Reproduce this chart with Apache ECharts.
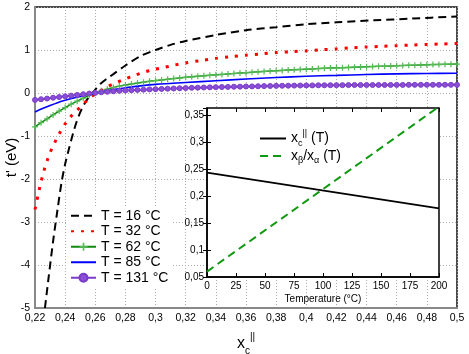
<!DOCTYPE html>
<html>
<head>
<meta charset="utf-8">
<script src="https://cdn.jsdelivr.net/npm/echarts@6/dist/echarts.min.js"></script>
<style>
  html, body { margin: 0; padding: 0; background: #fff; }
  #chart { width: 469px; height: 354px; }
</style>
</head>
<body>
<div id="chart"></div>
<script>
// main plot: t' vs x_c
const xDense = [
  0.22, 0.224, 0.228, 0.232, 0.236, 0.24, 0.244, 0.248, 0.252, 0.256,
  0.26, 0.264, 0.268, 0.272, 0.276, 0.28, 0.284, 0.288, 0.292, 0.296,
  0.3, 0.304, 0.308, 0.312, 0.316, 0.32, 0.324, 0.328, 0.332, 0.336,
  0.34, 0.344, 0.348, 0.352, 0.356, 0.36, 0.364, 0.368, 0.372, 0.376,
  0.38, 0.384, 0.388, 0.392, 0.396, 0.4, 0.404, 0.408, 0.412, 0.416,
  0.42, 0.424, 0.428, 0.432, 0.436, 0.44, 0.444, 0.448, 0.452, 0.456,
  0.46, 0.464, 0.468, 0.472, 0.476, 0.48, 0.484, 0.488, 0.492, 0.496,
  0.5
];
const t62 = [
  -0.79, -0.69, -0.6, -0.51, -0.42, -0.34, -0.26, -0.19, -0.12, -0.055,
  0.0, 0.05, 0.09, 0.13, 0.16, 0.185, 0.21, 0.232, 0.252, 0.272,
  0.29, 0.305, 0.32, 0.335, 0.35, 0.364, 0.377, 0.389, 0.4, 0.411,
  0.422, 0.433, 0.443, 0.453, 0.463, 0.473, 0.483, 0.492, 0.501, 0.51,
  0.518, 0.526, 0.534, 0.541, 0.548, 0.555, 0.561, 0.567, 0.573, 0.579,
  0.585, 0.59, 0.595, 0.6, 0.605, 0.61, 0.615, 0.62, 0.625, 0.63,
  0.635, 0.64, 0.644, 0.648, 0.652, 0.656, 0.66, 0.664, 0.667, 0.67,
  0.673
];
const t131 = [
  -0.16, -0.145, -0.13, -0.11, -0.095, -0.078, -0.062, -0.045, -0.028, -0.012,
  0.003, 0.017, 0.029, 0.04, 0.05, 0.058, 0.065, 0.072, 0.078, 0.084,
  0.089, 0.095, 0.1, 0.105, 0.11, 0.115, 0.12, 0.124, 0.128, 0.132,
  0.136, 0.139, 0.142, 0.145, 0.148, 0.151, 0.154, 0.157, 0.16, 0.163,
  0.166, 0.168, 0.17, 0.172, 0.174, 0.176, 0.177, 0.179, 0.18, 0.181,
  0.182, 0.183, 0.184, 0.185, 0.185, 0.186, 0.186, 0.187, 0.187, 0.188,
  0.188, 0.188, 0.189, 0.189, 0.189, 0.19, 0.19, 0.19, 0.19, 0.19,
  0.19
];
const x16 = [0.2266, 0.229, 0.232, 0.235, 0.2375, 0.24, 0.2425, 0.245, 0.2475, 0.25,
  0.2525, 0.255, 0.2575, 0.26, 0.2633, 0.268, 0.272, 0.28, 0.29, 0.3,
  0.31, 0.32, 0.34, 0.36, 0.38, 0.4, 0.42, 0.445, 0.47, 0.5];
const t16 = [-5, -4.3, -3.45, -2.7, -2.1, -1.65, -1.3, -0.97, -0.68, -0.45,
  -0.27, -0.13, -0.02, 0.08, 0.21, 0.34, 0.44, 0.64, 0.86, 1.0,
  1.12, 1.21, 1.35, 1.46, 1.53, 1.6, 1.645, 1.69, 1.73, 1.78];
const x32 = [0.22, 0.222, 0.224, 0.226, 0.228, 0.23, 0.233, 0.236, 0.24, 0.245,
  0.25, 0.2565, 0.262, 0.268, 0.274, 0.28, 0.286, 0.292, 0.298, 0.305,
  0.312, 0.32, 0.33, 0.34, 0.35, 0.36, 0.37, 0.38, 0.39, 0.4,
  0.41, 0.42, 0.43, 0.44, 0.45, 0.46, 0.47, 0.48, 0.49, 0.5];
const t32 = [-2.71, -2.38, -2.07, -1.8, -1.58, -1.39, -1.16, -0.95, -0.72, -0.5,
  -0.33, -0.11, 0.02, 0.15, 0.24, 0.33, 0.41, 0.48, 0.54, 0.59,
  0.645, 0.7, 0.755, 0.805, 0.845, 0.88, 0.91, 0.94, 0.96, 0.98,
  1.005, 1.025, 1.05, 1.07, 1.085, 1.1, 1.115, 1.13, 1.14, 1.15];
const x85 = [0.22, 0.225, 0.23, 0.235, 0.24, 0.245, 0.25, 0.255, 0.26, 0.265,
  0.27, 0.28, 0.29, 0.3, 0.32, 0.34, 0.36, 0.38, 0.4, 0.42,
  0.44, 0.46, 0.48, 0.5];
const t85 = [-0.44, -0.36, -0.29, -0.225, -0.17, -0.12, -0.08, -0.045, -0.01, 0.03,
  0.07, 0.12, 0.165, 0.2, 0.245, 0.285, 0.325, 0.36, 0.39, 0.41,
  0.43, 0.445, 0.455, 0.46];
const legendNames = ['T = 16 °C', 'T = 32 °C', 'T = 62 °C', 'T = 85 °C', 'T = 131 °C'];

// inset: x vs temperature
const tempC = [0, 200];
const xcT = [0.243, 0.177];
const ratioT = [0.06, 0.365];

const pairs = (xs, ys) => xs.map((x, i) => [x, ys[i]]);
const comma = (v) => String(+v.toFixed(3)).replace('.', ',');
const FONT = 'Liberation Sans';
const noMark = { opacity: 0 };

const chart = echarts.init(document.getElementById('chart'));

const insetNames = {
  xc: '{m|x}{sub|c}{sup|||}{m| (T)}',
  ratio: '{m|x}{sub|β}{m|/x}{sub|α}{m| (T)}',
};
const richSub = {
  m: { fontSize: 14, lineHeight: 19, fontFamily: FONT, color: '#000' },
  sub: { fontSize: 9, lineHeight: 9, verticalAlign: 'bottom', fontFamily: FONT, color: '#000' },
  sup: { fontSize: 9, lineHeight: 9, verticalAlign: 'top', fontFamily: FONT, color: '#000' },
};

const option = {
  animation: false,
  textStyle: { fontFamily: FONT },
  grid: [
    { left: 35, top: 7, width: 422, height: 301, outerBoundsMode: 'none',
      show: true, borderColor: '#111', borderWidth: 1.5, z: 0 },
    { left: 207, top: 108, width: 232, height: 169, outerBoundsMode: 'none',
      show: true, backgroundColor: '#fff', borderColor: '#000', borderWidth: 1.5, z: 3 },
  ],
  xAxis: [
    {
      type: 'value', gridIndex: 0, min: 0.22, max: 0.5, interval: 0.02, z: 1,
      axisLine: { show: true, onZero: false, lineStyle: { color: '#888', width: 2 } },
      axisTick: { show: false },
      axisLabel: { color: '#000', fontSize: 10.5, margin: 5, formatter: comma },
      splitLine: { show: true, lineStyle: { color: '#aaa', width: 1, type: [1, 2] } },
      name: '{x|x}{sub|c}{sup|||}', nameLocation: 'middle', nameGap: 24, nameMoveOverlap: false,
      nameTextStyle: {
        rich: {
          x: { fontSize: 16, lineHeight: 24, fontFamily: FONT, color: '#000' },
          sub: { fontSize: 10, lineHeight: 10, verticalAlign: 'bottom', fontFamily: FONT, color: '#000' },
          sup: { fontSize: 10, lineHeight: 10, verticalAlign: 'top', fontFamily: FONT, color: '#000' },
        },
      },
    },
    {
      type: 'value', gridIndex: 1, min: 0, max: 200, interval: 25, z: 4,
      axisLine: { show: true, lineStyle: { color: '#000', width: 1.5 } },
      axisTick: { show: true, inside: true, length: 4, lineStyle: { color: '#000' } },
      axisLabel: { color: '#000', fontSize: 10, margin: 4 },
      splitLine: { show: false },
      name: 'Temperature (°C)', nameLocation: 'middle', nameGap: 17, nameMoveOverlap: false,
      nameTextStyle: { color: '#000', fontSize: 10 },
    },
    {
      type: 'value', gridIndex: 1, position: 'top', min: 0, max: 200, interval: 25, z: 4,
      axisLine: { show: false },
      axisTick: { show: true, inside: true, length: 4, lineStyle: { color: '#000' } },
      axisLabel: { show: false },
      splitLine: { show: false },
    },
  ],
  yAxis: [
    {
      type: 'value', gridIndex: 0, min: -5, max: 2, interval: 1, z: 1,
      axisLine: { show: true, onZero: false, lineStyle: { color: '#888', width: 2 } },
      axisTick: { show: false },
      axisLabel: { color: '#000', fontSize: 10.5, margin: 5 },
      splitLine: { show: true, lineStyle: { color: '#aaa', width: 1, type: [1, 2] } },
      name: "t' (eV)", nameLocation: 'middle', nameGap: 16, nameRotate: 90, nameMoveOverlap: false,
      nameTextStyle: { color: '#000', fontSize: 15 },
    },
    {
      type: 'value', gridIndex: 1, min: 0.05, max: 0.3625, interval: 0.05, z: 4,
      axisLine: { show: true, lineStyle: { color: '#000', width: 1.5 } },
      axisTick: { show: true, inside: true, length: 4, lineStyle: { color: '#000' } },
      axisLabel: { color: '#000', fontSize: 10, margin: 3, formatter: comma, showMaxLabel: false },
      splitLine: { show: false },
    },
    {
      type: 'value', gridIndex: 1, position: 'right', min: 0.05, max: 0.3625, interval: 0.05, z: 4,
      axisLine: { show: false },
      axisTick: { show: true, inside: true, length: 4, lineStyle: { color: '#000' } },
      axisLabel: { show: false },
      splitLine: { show: false },
    },
  ],
  legend: [
    {
      data: [
        { name: legendNames[0], itemStyle: noMark },
        { name: legendNames[1], itemStyle: noMark },
        { name: legendNames[2] },
        { name: legendNames[3], itemStyle: noMark },
        { name: legendNames[4] },
      ],
      orient: 'vertical', left: 66, top: 206, z: 6,
      backgroundColor: '#fff', padding: [2, 4, 2, 4],
      itemWidth: 25, itemHeight: 10, itemGap: 0,
      textStyle: { fontSize: 14, lineHeight: 15.5, color: '#000', fontFamily: FONT },
    },
    {
      data: [{ name: 'xc', itemStyle: noMark }, { name: 'ratio', itemStyle: noMark }],
      orient: 'vertical', left: 254, top: 124, z: 6,
      itemWidth: 26, itemHeight: 10, itemGap: 1,
      formatter: (name) => insetNames[name],
      textStyle: { rich: richSub },
    },
  ],
  series: [
    {
      name: legendNames[0], type: 'line', xAxisIndex: 0, yAxisIndex: 0, z: 5,
      data: pairs(x16, t16), smooth: 0.3, showSymbol: false, symbol: 'none',
      lineStyle: { color: '#000', width: 2, type: [8, 5] }, itemStyle: { color: '#000' },
    },
    {
      name: legendNames[1], type: 'line', xAxisIndex: 0, yAxisIndex: 0, z: 5,
      data: pairs(x32, t32), smooth: 0.3, showSymbol: false, symbol: 'none',
      lineStyle: { color: '#ff0000', width: 3, type: [3, 7], cap: 'butt' }, itemStyle: { color: '#ff0000' },
    },
    {
      name: legendNames[2], type: 'line', xAxisIndex: 0, yAxisIndex: 0, z: 5,
      data: pairs(xDense, t62),
      symbol: 'path://M4,0H6V4H10V6H6V10H4V6H0V4H4Z', symbolSize: 6,
      lineStyle: { color: '#118811', width: 1.5 }, itemStyle: { color: '#55bb55' },
    },
    {
      name: legendNames[3], type: 'line', xAxisIndex: 0, yAxisIndex: 0, z: 5,
      data: pairs(x85, t85), smooth: 0.3, showSymbol: false, symbol: 'none',
      lineStyle: { color: '#0000ff', width: 1.6 }, itemStyle: { color: '#0000ff' },
    },
    {
      name: legendNames[4], type: 'line', xAxisIndex: 0, yAxisIndex: 0, z: 5,
      data: pairs(xDense, t131),
      symbol: 'circle', symbolSize: 5,
      lineStyle: { color: '#7a3cc8', width: 2 },
      itemStyle: { color: '#8a4fd6', borderColor: '#7a3cc8', borderWidth: 1 },
    },
    {
      name: 'xc', type: 'line', xAxisIndex: 1, yAxisIndex: 1, z: 5,
      data: pairs(tempC, xcT), showSymbol: false, symbol: 'none',
      lineStyle: { color: '#000', width: 1.8 }, itemStyle: { color: '#000' },
    },
    {
      name: 'ratio', type: 'line', xAxisIndex: 1, yAxisIndex: 1, z: 5,
      data: pairs(tempC, ratioT), showSymbol: false, symbol: 'none',
      lineStyle: { color: '#119911', width: 2, type: [8, 5] }, itemStyle: { color: '#119911' },
    },
  ],
};

chart.setOption(option);
</script>
</body>
</html>
